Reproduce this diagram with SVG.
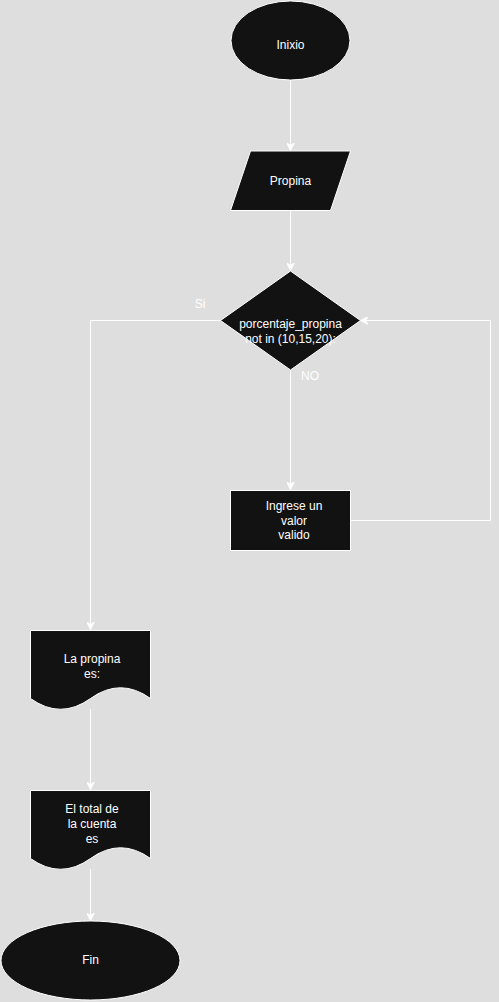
<svg xmlns="http://www.w3.org/2000/svg" width="499" height="1002" viewBox="0 0 499 1002">
  <style>
    .shape { fill: #121212; stroke: #ffffff; stroke-width: 1; }
    .edge { fill: none; stroke: #ffffff; stroke-width: 1; }
    .label { font-family: "Liberation Sans", Arial, Helvetica, sans-serif; font-size: 12px; fill: #ffffff; text-anchor: middle; }
  </style>
  <defs>
    <marker id="arrow" viewBox="0 0 10 10" refX="9" refY="5" markerWidth="8" markerHeight="8" markerUnits="userSpaceOnUse" orient="auto">
      <path d="M0,0 L10,5 L0,10 L3,5 Z" fill="#ffffff" stroke="#ffffff" stroke-width="1"/>
    </marker>
  </defs>
  <rect x="0" y="0" width="499" height="1002" fill="#dedede"/>

  <g id="connectors">
    <path class="edge" d="M290.5,80 L290.5,150" marker-end="url(#arrow)"/>
    <path class="edge" d="M290.5,210 L290.5,270" marker-end="url(#arrow)"/>
    <path class="edge" d="M221,320.5 L90.5,320.5 L90.5,629" marker-end="url(#arrow)"/>
    <path class="edge" d="M290.5,370 L290.5,489" marker-end="url(#arrow)"/>
    <path class="edge" d="M350,520.5 L490.5,520.5 L490.5,320.5 L361,320.5" marker-end="url(#arrow)"/>
    <path class="edge" d="M90.5,709 L90.5,789" marker-end="url(#arrow)"/>
    <path class="edge" d="M90.5,869 L90.5,920" marker-end="url(#arrow)"/>
    <text class="label" x="200" y="308">Si</text>
    <text class="label" x="310" y="380">NO</text>
  </g>

  <g id="inicio">
    <ellipse class="shape" cx="290.5" cy="40.5" rx="59.5" ry="39.5"/>
    <text class="label" x="290.5" y="49">Inixio</text>
  </g>

  <g id="propina">
    <polygon class="shape" points="250.5,151 350.5,151 330.5,210.5 230.5,210.5"/>
    <text class="label" x="290.5" y="185">Propina</text>
  </g>

  <g id="decision">
    <polygon class="shape" points="290.5,271 360.5,320.5 290.5,370 220.5,320.5"/>
    <text class="label" x="290.5" y="328">porcentaje_propina</text>
    <text class="label" x="290.5" y="343">not in (10,15,20):</text>
  </g>

  <g id="ingrese">
    <rect class="shape" x="230.5" y="490.5" width="120" height="60"/>
    <text class="label" x="294" y="510">Ingrese un</text>
    <text class="label" x="294" y="525">valor</text>
    <text class="label" x="294" y="539">valido</text>
  </g>

  <g id="doc-propina">
    <path class="shape" d="M30.5,630.5 L150.5,630.5 L150.5,698.5 Q120.5,677 90.5,698.5 Q60.5,720 30.5,698.5 Z"/>
    <text class="label" x="92" y="663">La propina</text>
    <text class="label" x="92" y="678">es:</text>
  </g>

  <g id="doc-total">
    <path class="shape" d="M30.5,790.5 L150.5,790.5 L150.5,858.5 Q120.5,837 90.5,858.5 Q60.5,880 30.5,858.5 Z"/>
    <text class="label" x="92" y="813">El total de</text>
    <text class="label" x="92" y="828">la cuenta</text>
    <text class="label" x="92" y="843">es</text>
  </g>

  <g id="fin">
    <ellipse class="shape" cx="90.5" cy="960.5" rx="89.5" ry="39.5"/>
    <text class="label" x="90.5" y="964">Fin</text>
  </g>
</svg>
